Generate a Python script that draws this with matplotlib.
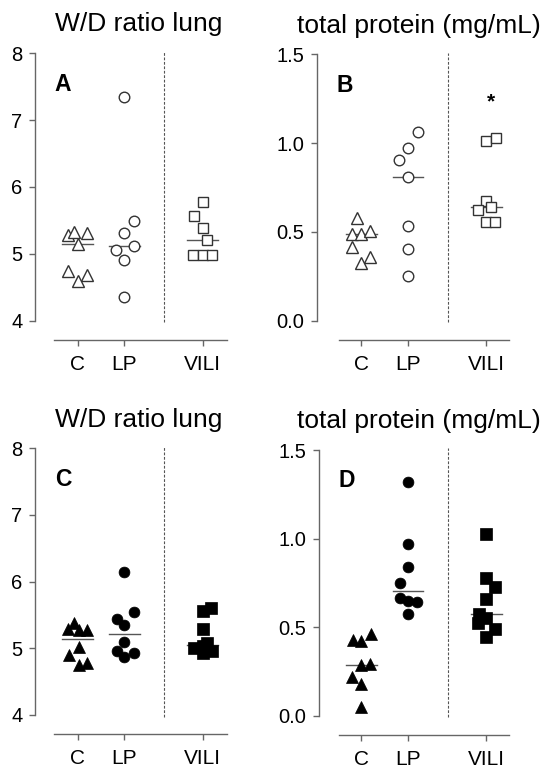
import numpy as np
import matplotlib
matplotlib.use('Agg')
import matplotlib.pyplot as plt

plt.rcParams['font.family'] = ['Liberation Sans', 'DejaVu Sans']

# ---------------- data ----------------
categories = ['C', 'LP', 'VILI']

# Panel A: W/D ratio lung (open markers)
a_C = [5.28, 5.33, 5.31, 5.14, 4.75, 4.68, 4.60]
a_C_jit = [-0.20, -0.08, 0.21, 0.0, -0.20, 0.21, 0.0]
a_LP = [7.34, 5.49, 5.31, 5.12, 5.06, 4.91, 4.36]
a_LP_jit = [0.0, 0.20, 0.0, 0.20, -0.18, 0.0, 0.0]
a_VILI = [5.78, 5.56, 5.38, 5.21, 4.98, 4.98, 4.98]
a_VILI_jit = [0.0, -0.18, 0.0, 0.10, -0.20, 0.0, 0.20]

# Panel B: total protein (open markers)
b_C = [0.576, 0.486, 0.486, 0.505, 0.413, 0.360, 0.323]
b_C_jit = [-0.09, -0.20, 0.0, 0.19, -0.20, 0.19, 0.0]
b_LP = [1.064, 0.974, 0.905, 0.811, 0.535, 0.404, 0.252]
b_LP_jit = [0.21, 0.0, -0.19, 0.0, 0.0, 0.0, 0.0]
b_VILI = [1.014, 1.031, 0.674, 0.623, 0.642, 0.558, 0.558]
b_VILI_jit = [0.0, 0.20, 0.0, -0.18, 0.09, 0.0, 0.19]
b_star = 1.23

# Panel C: W/D ratio lung (filled markers)
c_C = [5.375, 5.285, 5.275, 5.27, 5.015, 4.90, 4.775, 4.75]
c_C_jit = [-0.08, -0.20, 0.21, 0.03, 0.03, -0.19, 0.21, 0.03]
c_LP = [6.14, 5.44, 5.54, 5.35, 5.09, 4.965, 4.925, 4.865]
c_LP_jit = [0.0, -0.16, 0.21, 0.0, 0.0, -0.16, 0.21, 0.0]
c_VILI = [5.60, 5.565, 5.285, 5.075, 5.0, 5.03, 4.965, 4.925]
c_VILI_jit = [0.19, 0.0, 0.0, 0.09, -0.18, 0.0, 0.20, 0.0]

# Panel D: total protein (filled markers)
d_C = [0.427, 0.421, 0.461, 0.286, 0.292, 0.220, 0.177, 0.051]
d_C_jit = [-0.18, 0.0, 0.21, 0.0, 0.19, -0.20, 0.0, 0.0]
d_LP = [1.317, 0.969, 0.837, 0.747, 0.662, 0.649, 0.644, 0.572]
d_LP_jit = [0.0, 0.0, 0.0, -0.18, -0.18, 0.01, 0.19, 0.0]
d_VILI = [1.026, 0.78, 0.728, 0.659, 0.55, 0.572, 0.525, 0.489, 0.446]
d_VILI_jit = [0.0, 0.0, 0.19, 0.0, 0.0, -0.16, -0.19, 0.19, 0.0]

wd_ticks = [4, 5, 6, 7, 8]
tp_ticks = [0.0, 0.5, 1.0, 1.5]

# ---------------- layout ----------------
W, H = 544, 765
fig = plt.figure(figsize=(W / 100, H / 100), dpi=100)

cat_x = [1.0, 2.0, 3.68]
sep_x = 2.86
markers = ['^', 'o', 's']
open_ms = [8.3, 7.6, 7.8]
fill_ms = [9.2, 7.8, 8.3]
SPINE = '#666666'


def px_rect(left, top, right, bottom):
    return [left / W, 1 - bottom / H, (right - left) / W, (bottom - top) / H]


def draw_panel(rect, xlim, xbounds, ylim, yticks, yfmt, groups, filled,
               title, title_xy, letter, letter_xy):
    ax = fig.add_axes(px_rect(*rect))
    for i, (vals, jit) in enumerate(groups):
        vals = np.asarray(vals)
        xs = cat_x[i] + np.asarray(jit)
        med = np.median(vals)
        ax.plot([cat_x[i] - 0.33, cat_x[i] + 0.33], [med, med],
                color='#555555', lw=1.0, zorder=2)
        if filled:
            ax.plot(xs, vals, linestyle='none', marker=markers[i], ms=fill_ms[i],
                    mfc='black', mec='black', mew=0.5, zorder=3)
        else:
            ax.plot(xs, vals, linestyle='none', marker=markers[i], ms=open_ms[i],
                    mfc='white', mec='#333333', mew=1.0, zorder=3)
    ax.axvline(sep_x, ymin=-0.006, ymax=1.006, color='#555555', lw=0.8,
               ls=(0, (2.5, 1.5)), clip_on=False)
    ax.set_xlim(*xlim)
    ax.set_ylim(*ylim)
    ax.spines['top'].set_visible(False)
    ax.spines['right'].set_visible(False)
    for s in ('left', 'bottom'):
        ax.spines[s].set_color(SPINE)
        ax.spines[s].set_linewidth(1.0)
    ax.spines['bottom'].set_position(('outward', 19 * 0.72))
    ax.spines['bottom'].set_bounds(*xbounds)
    ax.set_xticks(cat_x)
    ax.set_xticklabels(categories, fontsize=15)
    ax.set_yticks(yticks)
    ax.set_yticklabels([yfmt.format(t) for t in yticks], fontsize=14.5)
    ax.tick_params(axis='both', color=SPINE, length=4, width=1.0)
    ax.tick_params(axis='y', pad=5)
    ax.tick_params(axis='x', pad=7)
    ax.patch.set_alpha(0)
    fig.text(title_xy[0] / W, 1 - title_xy[1] / H, title, fontsize=19,
             ha='center', va='baseline')
    ax.text(letter_xy[0], letter_xy[1], letter, transform=ax.transAxes,
            fontsize=16.5, fontweight='bold', ha='left', va='baseline')
    return ax


axA = draw_panel((35, 53.3, 232, 320.7), (0.084, 4.31), (0.49, 4.2), (4, 8),
                 wd_ticks, '{:d}',
                 [(a_C, a_C_jit), (a_LP, a_LP_jit), (a_VILI, a_VILI_jit)],
                 False, 'W/D ratio lung', (139, 31.5), 'A', (0.10, 0.86))
axB = draw_panel((317, 54.3, 514, 320.7), (0.051, 4.27), (0.516, 4.17), (0, 1.5),
                 tp_ticks, '{:.1f}',
                 [(b_C, b_C_jit), (b_LP, b_LP_jit), (b_VILI, b_VILI_jit)],
                 False, 'total protein (mg/mL)', (419, 32.5), 'B', (0.10, 0.86))
axB.text(cat_x[2] + 0.09, b_star, '*', fontsize=15, fontweight='bold',
         ha='center', va='center')
axC = draw_panel((35, 448.3, 232, 715), (0.084, 4.31), (0.49, 4.2), (4, 8),
                 wd_ticks, '{:d}',
                 [(c_C, c_C_jit), (c_LP, c_LP_jit), (c_VILI, c_VILI_jit)],
                 True, 'W/D ratio lung', (139, 426.5), 'C', (0.10, 0.86))
axD = draw_panel((318.7, 450, 514, 715.7), (0.088, 4.27), (0.516, 4.17), (0, 1.5),
                 tp_ticks, '{:.1f}',
                 [(d_C, d_C_jit), (d_LP, d_LP_jit), (d_VILI, d_VILI_jit)],
                 True, 'total protein (mg/mL)', (419, 428), 'D', (0.10, 0.86))

fig.savefig('out.png', dpi=100)
